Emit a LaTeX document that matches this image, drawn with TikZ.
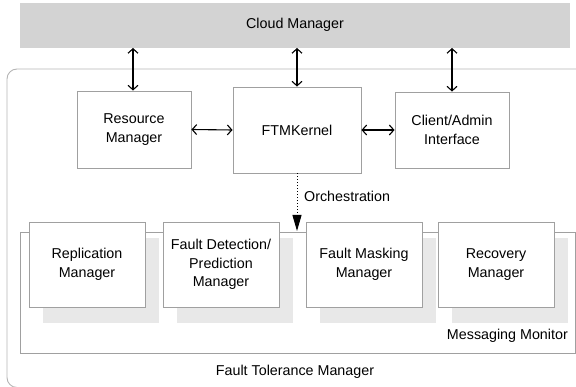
\documentclass[tikz,border=0pt]{standalone}
\usepackage{fontspec}
\setmainfont{Liberation Sans}
\usetikzlibrary{arrows.meta}
\definecolor{cloudgray}{HTML}{D3D3D3}
\definecolor{shadegray}{HTML}{E8E8E8}
\definecolor{edgegray}{HTML}{A0A0A0}
\definecolor{framegray}{HTML}{B4B4B4}
\tikzset{
  txt/.style={font=\fontsize{14.3}{18.8}\selectfont},
  box/.style={txt, draw=edgegray, fill=white, line width=0.9pt, align=center, inner sep=0pt},
  shade/.style={fill=shadegray, draw=none},
  link/.style={line width=1.1pt, {Straight Barb[length=4.5pt,width=10pt]}-{Straight Barb[length=4.5pt,width=10pt]}},
  lbl/.style={txt, inner sep=0pt},
}
\begin{document}
\begin{tikzpicture}[x=1pt,y=-1pt]
\useasboundingbox (0,0) rectangle (576,387);
% cloud manager band
\fill[cloudgray] (20,3) rectangle (570,48);
\node[lbl] (cloud) at (295,25) {Cloud Manager};
% fault tolerance manager frame
\draw[framegray, line width=0.9pt, rounded corners=10pt] (590,69) -- (7,69) -- (7,387.5) -- (590,387.5);
\node[lbl] (ftm) at (295,372) {Fault Tolerance Manager};
% top row components
\node[box, minimum width=114pt, minimum height=77pt] (res) at (134,129.5) {Resource\\Manager};
\node[box, minimum width=128pt, minimum height=86pt] (kern) at (297,130) {FTMKernel};
\node[box, minimum width=114pt, minimum height=76pt] (cli) at (452,130) {Client/Admin\\Interface};
\coordinate (c1) at (133,48);
\coordinate (c2) at (297,48);
\coordinate (c3) at (452,48);
\draw[link] (c1) -- (c1 |- res.north);
\draw[link] (c2) -- (c2 |- kern.north);
\draw[link] (c3) -- (c3 |- cli.north);
\draw[link] (res.east) -- (kern.west);
\draw[link] (kern.east) -- (cli.west);
% messaging monitor frame
\draw[edgegray, line width=0.9pt] (20,232) rectangle (575,353);
\node[lbl, anchor=east] (mm) at (568,336) {Messaging Monitor};
% drop shadows
\fill[shade] (43,238) rectangle (159,323);
\fill[shade] (177,238) rectangle (293,323);
\fill[shade] (320,238) rectangle (436,323);
\fill[shade] (452,238) rectangle (568,323);
% lower row components
\node[box, minimum width=116pt, minimum height=85pt] (rep) at (87,264.5) {Replication\\Manager};
\node[box, minimum width=116pt, minimum height=85pt] (fdp) at (221,264.5) {Fault Detection/\\Prediction\\Manager};
\node[box, minimum width=116pt, minimum height=85pt] (fmm) at (364,264.5) {Fault Masking\\Manager};
\node[box, minimum width=116pt, minimum height=85pt] (rec) at (496,264.5) {Recovery\\Manager};
% orchestration link
\coordinate (orch) at (297,231);
\draw[line width=1pt, dotted, -{Triangle[length=16pt,width=9pt]}] (kern.south) -- (orch);
\node[lbl, anchor=west] (orchlbl) at (304,196) {Orchestration};
\end{tikzpicture}
\end{document}
